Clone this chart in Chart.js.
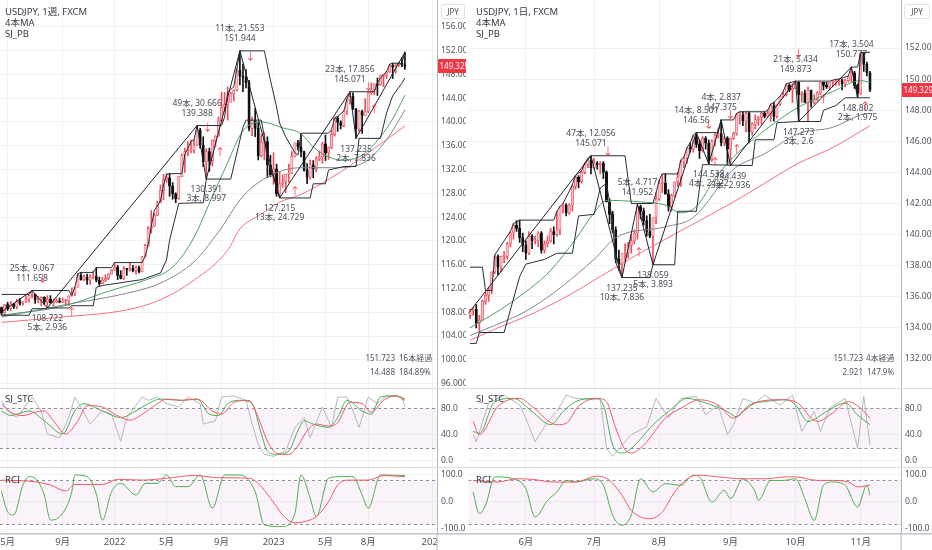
<!DOCTYPE html>
<html lang="ja">
<head>
<meta charset="utf-8">
<title>USDJPY 1週 / 1日</title>
<script src="https://cdn.jsdelivr.net/npm/chart.js@4.4.1/dist/chart.umd.min.js"></script>
<style>
  html, body { margin: 0; padding: 0; background: #fff; }
  body { position: relative; width: 932px; height: 550px; overflow: hidden;
         font-family: 'Noto Sans', 'Noto Sans CJK JP', sans-serif; }
  canvas { position: absolute; }
  .t { position: absolute; white-space: nowrap; font-size: 9.5px; line-height: 11px; color: #363a45; }
  .s { position: absolute; white-space: nowrap; font-size: 8px; line-height: 12px; color: #50535e; }
  .r { text-align: right; }
  .box { position: absolute; height: 13px; line-height: 13px; font-size: 8px; color: #50535e;
         border: 1px solid #e0e3eb; border-radius: 2px; text-align: center; }
</style>
</head>
<body>
<canvas id="wMain" width="466" height="388" style="left:0;top:0"></canvas>
<canvas id="wStc" width="466" height="79" style="left:0;top:388px"></canvas>
<canvas id="wRci" width="466" height="83" style="left:0;top:467px"></canvas>
<canvas id="dMain" width="466" height="388" style="left:466px;top:0"></canvas>
<canvas id="dStc" width="466" height="79" style="left:466px;top:388px"></canvas>
<canvas id="dRci" width="466" height="83" style="left:466px;top:467px"></canvas>

<div class="t" style="left:5px;top:6px">USDJPY, 1週, FXCM</div>
<div class="t" style="left:5px;top:17px">4本MA</div>
<div class="t" style="left:5px;top:28px">SJ_PB</div>
<div class="t" style="left:5px;top:393px">SJ_STC</div>
<div class="t" style="left:5px;top:474px">RCI</div>
<div class="box" style="left:441px;top:4px;width:22px">JPY</div>
<div class="s r" style="left:348px;top:352px;width:47px">151.723</div>
<div class="s" style="left:399px;top:352px">16本経過</div>
<div class="s r" style="left:348px;top:366px;width:47px">14.488</div>
<div class="s" style="left:399px;top:366px">184.89%</div>

<div class="t" style="left:476px;top:6px">USDJPY, 1日, FXCM</div>
<div class="t" style="left:476px;top:17px">4本MA</div>
<div class="t" style="left:476px;top:28px">SJ_PB</div>
<div class="t" style="left:476px;top:393px">SJ_STC</div>
<div class="t" style="left:476px;top:474px">RCI</div>
<div class="box" style="left:904px;top:4px;width:24px">JPY</div>
<div class="s r" style="left:816px;top:352px;width:47px">151.723</div>
<div class="s" style="left:866px;top:352px">4本経過</div>
<div class="s r" style="left:816px;top:366px;width:47px">2.921</div>
<div class="s" style="left:867px;top:366px">147.9%</div>

<script>
// ---------------- weekly (left) ----------------
const wTickIdx = [2, 20, 37, 54, 72, 89, 106, 120, 141];
const wTickText = ['5月', '9月', '2022', '5月', '9月', '2023', '5月', '8月', '2024'];
const wPriceTicks = [96, 100, 104, 108, 112, 116, 120, 124, 128, 132, 136, 140, 144, 148, 152, 156];

const wOpen = [
  108.8, 107.9, 109.3, 108.6, 109.4, 108.9, 109.9, 109.5, 109.7, 110.2,
  110.8, 111.0, 110.1, 110.1, 110.5, 109.7, 110.2, 109.6, 109.8, 109.8,
  109.7, 109.9, 109.9, 110.7, 111.1, 112.2, 114.2, 113.5, 113.9, 113.4,
  113.9, 114.0, 113.4, 112.8, 113.4, 113.7, 114.4, 115.1, 115.6, 114.2,
  113.7, 115.3, 115.2, 115.4, 115.0, 115.5, 114.8, 117.3, 119.2, 122.1,
  122.5, 124.3, 126.4, 128.5, 130.2, 130.6, 129.2, 127.9, 127.1, 130.8,
  134.4, 135.0, 135.2, 135.2, 136.1, 138.6, 136.1, 133.3, 135.0, 133.5,
  136.9, 137.6, 140.2, 142.5, 142.9, 143.3, 144.7, 145.3, 148.7, 147.7,
  147.5, 146.6, 138.9, 140.3, 138.9, 134.3, 136.6, 136.7, 132.8, 131.1,
  132.1, 127.9, 129.6, 129.9, 131.2, 131.4, 134.2, 136.5, 135.8, 135.0,
  131.9, 130.7, 132.8, 132.1, 133.8, 134.1, 136.3, 134.8, 135.7, 137.9,
  140.6, 139.9, 139.4, 141.8, 143.7, 144.3, 142.1, 138.8, 141.8, 141.1,
  141.8, 144.9, 145.4, 146.4, 146.2, 147.8, 147.8, 148.4, 149.4, 149.3,
  149.6, 149.9, 149.6
];
const wHigh = [
  108.9, 109.3, 109.7, 109.8, 109.5, 110.2, 110.3, 109.8, 110.8, 110.9,
  111.658, 111.1, 110.7, 110.6, 110.6, 110.8, 110.8, 110.2, 110.3, 110.4,
  110.4, 110.2, 110.8, 112.1, 112.2, 114.5, 114.7, 114.3, 114.4, 114.3,
  114.9, 115.5, 113.9, 113.9, 114.3, 114.5, 115.2, 116.35, 115.9, 115.0,
  115.7, 115.4, 116.3, 115.9, 115.8, 115.8, 117.4, 119.4, 122.4, 125.1,
  124.6, 126.7, 129.4, 131.2, 131.3, 131.3, 129.8, 128.1, 130.8, 134.6,
  135.6, 136.7, 137.0, 137.0, 139.388, 138.9, 137.5, 135.5, 135.6, 137.0,
  137.7, 140.8, 145.0, 144.95, 145.9, 145.0, 145.4, 148.9, 151.944, 149.7,
  148.8, 147.0, 140.8, 142.3, 139.9, 137.9, 138.2, 137.5, 134.4, 134.8,
  132.9, 131.6, 131.1, 131.2, 132.9, 135.0, 136.5, 136.9, 137.9, 135.1,
  133.0, 133.6, 133.5, 134.2, 135.1, 136.6, 137.8, 135.8, 138.7, 140.7,
  140.93, 140.2, 141.8, 143.8, 145.071, 144.9, 142.3, 141.952, 142.0, 143.9,
  145.0, 146.56, 146.4, 147.375, 147.9, 147.9, 148.5, 149.7, 149.873, 149.8,
  150.0, 150.777, 151.723
];
const wLow = [
  107.5, 107.5, 108.3, 108.3, 108.6, 108.6, 109.2, 109.2, 109.6, 109.7,
  110.4, 109.5, 109.6, 109.1, 109.3, 108.722, 109.5, 109.1, 109.6, 109.6,
  109.6, 109.1, 109.1, 110.7, 110.8, 112.2, 113.4, 113.3, 112.7, 112.7,
  113.6, 113.1, 112.5, 112.8, 113.1, 113.5, 114.4, 115.0, 113.5, 113.6,
  113.5, 114.2, 114.9, 114.8, 114.4, 114.6, 114.8, 117.3, 119.1, 121.3,
  122.4, 124.3, 126.4, 126.9, 129.8, 127.5, 127.0, 126.4, 127.0, 130.8,
  131.5, 134.3, 134.8, 134.8, 136.0, 135.6, 132.5, 130.391, 131.7, 132.6,
  135.8, 137.6, 140.0, 141.7, 140.3, 143.3, 143.5, 145.2, 146.2, 145.1,
  145.7, 138.5, 137.7, 137.5, 133.6, 134.1, 133.6, 130.6, 130.8, 129.5,
  127.5, 127.215, 129.0, 128.1, 129.8, 131.3, 134.1, 135.3, 134.1, 131.7,
  129.6, 130.4, 130.6, 131.6, 133.5, 133.0, 133.5, 133.7, 135.5, 137.6,
  138.4, 138.8, 139.2, 141.2, 143.0, 142.1, 137.235, 138.3, 138.059, 141.1,
  141.5, 144.6, 144.538, 144.439, 146.1, 145.9, 147.3, 148.3, 147.273, 148.2,
  149.3, 149.3, 148.802
];
const wClose = [
  107.9, 109.3, 108.6, 109.4, 108.9, 109.9, 109.5, 109.7, 110.2, 110.8,
  111.0, 110.1, 110.1, 110.5, 109.7, 110.2, 109.6, 109.8, 109.8, 109.7,
  109.9, 109.9, 110.7, 111.1, 112.2, 114.2, 113.5, 113.9, 113.4, 113.9,
  114.0, 113.4, 112.8, 113.4, 113.7, 114.4, 115.1, 115.6, 114.2, 113.7,
  115.3, 115.2, 115.4, 115.0, 115.5, 114.8, 117.3, 119.2, 122.1, 122.5,
  124.3, 126.4, 128.5, 130.2, 130.6, 129.2, 127.9, 127.1, 130.8, 134.4,
  135.0, 135.2, 135.2, 136.1, 138.6, 136.1, 133.3, 135.0, 133.5, 136.9,
  137.6, 140.2, 142.5, 142.9, 143.3, 144.7, 145.3, 148.7, 147.7, 147.5,
  146.6, 138.9, 140.3, 138.9, 134.3, 136.6, 136.7, 132.8, 131.1, 132.1,
  127.9, 129.6, 129.9, 131.2, 131.4, 134.2, 136.5, 135.8, 135.0, 131.9,
  130.7, 132.8, 132.1, 133.8, 134.1, 136.3, 134.8, 135.7, 137.9, 140.6,
  139.9, 139.4, 141.8, 143.7, 144.3, 142.1, 138.8, 141.8, 141.1, 141.8,
  144.9, 145.4, 146.4, 146.2, 147.8, 147.8, 148.4, 149.4, 149.3, 149.6,
  149.9, 149.6, 149.329
];
// moving averages: [bar index, price]
const wMaGreen = [[0,107.5],[20,109.0],[36,111.7],[47,113.4],[56,115.6],[63,120.6],[69,127.5],[73,132.0],[79,138.5],[85,140.0],[92,139.0],[98,138.0],[102,135.8],[107,134.1],[112,133.6],[118,134.4],[124,137.5],[128,140.5],[132,144.5]];
const wMaGray = [[0,107.2],[20,109.2],[41,111.2],[52,112.9],[63,116.5],[71,121.5],[79,127.5],[88,131.0],[98,132.3],[109,132.3],[118,133.0],[126,137.0],[132,142.0]];
const wMaRed = [[0,106.3],[20,107.2],[41,108.4],[52,110.1],[63,113.4],[74,118.4],[78,122.0],[85,124.5],[91,126.5],[98,127.8],[111,131.6],[120,134.8],[132,139.3]];
// SJ_PB box lines and zigzag
const wUpper = [[0,111.0],[9,111.0],[10,111.66],[22,111.66],[23,110.8],[24,112.2],[25,114.5],[26,114.7],[30,114.7],[31,115.5],[36,115.5],[37,116.35],[46,116.35],[47,117.4],[48,119.4],[49,122.4],[50,125.1],[52,126.7],[53,129.4],[54,131.2],[55,131.3],[59,131.3],[60,134.6],[61,135.6],[62,136.7],[63,137.0],[64,139.39],[72,139.39],[73,140.8],[74,145.0],[76,145.9],[77,148.9],[78,151.94],[86,151.94],[88,147.0],[90,142.5],[91,139.8],[93,137.5],[96,134.8],[97,134.4],[98,138.1],[107,138.1],[108,138.7],[109,140.7],[110,140.93],[112,141.8],[113,143.8],[114,145.07],[122,145.07],[123,146.56],[124,147.4],[125,147.9],[126,148.5],[127,149.7],[128,149.87],[131,149.87],[132,151.72]];
const wLower = [[0,107.5],[9,107.5],[10,108.6],[14,108.6],[15,108.72],[22,108.72],[23,109.1],[30,109.1],[31,112.2],[33,112.5],[46,113.5],[52,114.6],[54,116.8],[55,120.1],[58,126.3],[64,126.4],[66,126.4],[67,130.39],[75,130.39],[79,139.1],[80,140.3],[85,140.3],[86,137.5],[87,133.6],[89,130.6],[91,127.215],[101,127.215],[102,129.6],[106,129.6],[107,131.9],[112,132.5],[116,132.5],[117,137.235],[124,137.235],[126,141.5],[128,144.4],[131,146.5],[132,147.4]];
const wZigzag = [[-15,102.591],[10,111.658],[15,108.722],[64,139.388],[67,130.391],[78,151.944],[91,127.215],[114,145.071],[116,137.235],[132,151.723]];
// swing labels: [index, price, above?, line1, line2]
const wNotes = [
  [10, 111.658, true, '25本, 9.067', '111.658'],
  [15, 108.722, false, '108.722', '5本, 2.936'],
  [64, 139.388, true, '49本, 30.666', '139.388'],
  [67, 130.391, false, '130.391', '3本, 8.997'],
  [78, 151.944, true, '11本, 21.553', '151.944'],
  [91, 127.215, false, '127.215', '13本, 24.729'],
  [114, 145.071, true, '23本, 17.856', '145.071'],
  [116, 137.235, false, '137.235', '2本, 7.836']
];
const wArrows = [[13.5,113.5,false],[23,107.9,true],[67.5,138.9,false],[71.5,134.8,true],[81.5,150.8,false],[96,128.2,true],[120,145.9,false],[122,142.0,true]];
// SJ_STC and RCI
const wStcGray = [[0,92],[2,76],[5,66],[10,97],[13,76],[15,41],[19,35],[22,66],[24,97],[26,82],[29,56],[33,76],[36,71],[39,30],[41,66],[46,97],[48,92],[51,97],[54,87],[58,82],[61,97],[65,87],[66,56],[70,61],[72,97],[76,99],[80,92],[82,56],[84,25],[86,10],[89,7],[93,15],[96,51],[99,66],[101,35],[105,82],[108,51],[110,97],[113,97],[115,76],[117,51],[120,97],[123,87],[126,99],[131,97],[132,82]];
const wStcGreen = [[0,76],[3,69],[9,76],[14,61],[20,41],[24,76],[27,87],[33,76],[39,66],[44,76],[48,87],[52,94],[59,92],[64,94],[68,71],[71,69],[74,87],[78,92],[82,87],[85,41],[87,15],[90,10],[94,15],[97,46],[99,61],[102,56],[107,51],[110,66],[113,92],[118,76],[121,71],[124,97],[129,99],[132,92]];
const wStcRed = [[0,87],[3,74],[7,69],[11,74],[14,76],[17,61],[21,41],[25,61],[28,84],[33,82],[37,71],[42,62],[47,74],[51,87],[54,94],[59,92],[64,94],[69,76],[72,71],[76,89],[81,92],[84,66],[87,30],[90,12],[94,10],[97,23],[100,46],[103,56],[107,53],[110,58],[114,89],[118,87],[121,74],[125,92],[129,99],[132,94]];
const wRciGreen = [[0,38],[2,-36],[4,-48],[7,63],[9,94],[11,88],[14,26],[16,-67],[20,-42],[23,38],[24,100],[28,94],[31,30],[33,-67],[36,38],[39,69],[44,26],[47,69],[51,69],[54,100],[57,57],[61,57],[65,100],[69,-23],[73,100],[78,100],[83,38],[86,-85],[92,-91],[96,-42],[98,100],[101,14],[103,-54],[107,88],[111,94],[115,94],[118,26],[120,-23],[124,100],[132,98]];
const wRciRed = [[0,81],[11,75],[16,63],[21,41],[24,65],[33,65],[38,84],[46,81],[54,88],[63,98],[71,90],[81,88],[84,69],[88,14],[93,-60],[96,-77],[100,-70],[103,-54],[107,1],[110,63],[113,81],[120,81],[125,98],[132,94]];

// ---------------- daily (right) ----------------
const dTickIdx = [18, 40, 61, 84, 105, 126];
const dTickText = ['6月', '7月', '8月', '9月', '10月', '11月'];
const dPriceTicks = [132, 134, 136, 138, 140, 142, 144, 146, 148, 150, 152];

const dOpen = [
  134.8, 135.1, 135.2, 134.3, 134.5, 135.7, 136.1, 136.4, 137.6, 138.6,
  137.9, 138.6, 138.6, 139.4, 140.1, 140.6, 140.4, 139.8, 139.3, 138.8,
  139.9, 139.6, 139.6, 140.1, 139.0, 139.4, 139.6, 140.2, 140.0, 140.3,
  141.8, 141.9, 141.4, 141.9, 143.1, 143.7, 143.4, 144.0, 144.5, 144.8,
  144.3, 144.6, 144.5, 144.6, 144.0, 142.1, 141.3, 140.3, 138.4, 138.1,
  138.8, 138.8, 139.3, 139.6, 140.1, 141.8, 141.5, 140.9, 140.2, 139.9,
  141.1, 142.3, 143.3, 143.3, 142.6, 141.8, 142.5, 143.4, 143.7, 144.7,
  144.9, 145.6, 145.5, 146.3, 145.8, 145.4, 146.2, 145.9, 144.8, 146.0,
  146.4, 146.5, 145.9, 146.2, 145.5, 146.2, 146.5, 147.7, 147.7, 147.3,
  147.8, 146.6, 147.1, 147.4, 147.5, 147.8, 147.6, 147.8, 148.3, 147.6,
  148.4, 148.9, 149.0, 149.6, 149.3, 149.4, 149.8, 149.0, 149.1, 148.5,
  149.3, 148.5, 148.7, 149.1, 149.8, 149.6, 149.5, 149.8, 149.8, 149.9,
  149.9, 149.7, 149.9, 150.2, 150.4, 149.6, 149.1, 151.68, 150.95, 150.4
];
const dHigh = [
  135.2, 135.3, 135.5, 134.8, 135.8, 136.3, 136.6, 137.6, 138.7, 138.7,
  138.6, 138.9, 139.5, 140.2, 140.7, 140.9, 140.93, 140.1, 139.6, 140.2,
  140.0, 139.9, 140.2, 140.2, 139.6, 139.9, 140.4, 140.5, 141.5, 141.8,
  142.0, 142.0, 142.0, 143.2, 143.8, 143.8, 144.1, 144.6, 144.9, 145.071,
  144.9, 144.7, 144.7, 144.7, 144.1, 142.3, 141.5, 140.5, 139.0, 138.5,
  139.4, 139.5, 140.0, 140.3, 141.952, 141.9, 141.7, 141.2, 141.3, 141.1,
  142.7, 143.5, 143.9, 143.9, 142.9, 142.6, 143.4, 144.0, 144.8, 145.0,
  145.6, 145.9, 146.4, 146.56, 146.1, 146.3, 146.3, 146.1, 146.1, 146.5,
  146.8, 147.375, 146.3, 146.3, 146.2, 146.6, 147.8, 147.9, 147.9, 147.9,
  147.9, 147.2, 147.7, 147.6, 147.9, 147.9, 148.0, 148.4, 148.5, 148.4,
  148.9, 149.2, 149.7, 149.7, 149.7, 149.873, 149.85, 149.2, 149.3, 149.5,
  149.3, 149.0, 149.2, 149.8, 149.8, 149.8, 149.8, 149.9, 149.99, 150.0,
  150.0, 150.0, 150.2, 150.777, 150.5, 149.7, 151.723, 151.72, 151.1, 150.5
];
const dLow = [
  134.6, 134.8, 134.0, 133.7, 134.5, 135.5, 135.7, 136.2, 137.5, 137.4,
  137.6, 138.2, 138.4, 139.2, 139.7, 140.2, 139.5, 138.9, 138.4, 138.7,
  139.1, 139.4, 139.2, 138.8, 138.8, 139.2, 139.5, 139.4, 139.9, 140.0,
  141.4, 141.2, 141.3, 141.5, 142.9, 143.0, 143.3, 143.9, 144.3, 143.9,
  144.2, 144.2, 143.9, 143.6, 142.1, 140.7, 140.1, 138.2, 137.7, 137.235,
  138.3, 138.5, 138.8, 139.4, 139.7, 141.0, 140.6, 139.9, 139.8, 138.059,
  140.7, 142.2, 142.7, 142.6, 141.5, 141.5, 142.4, 143.1, 143.1, 144.3,
  144.6, 145.3, 145.3, 145.6, 144.9, 145.3, 145.5, 144.538, 144.7, 145.7,
  146.2, 145.7, 145.7, 144.5, 144.439, 146.1, 146.4, 147.1, 147.0, 146.6,
  145.9, 146.4, 146.8, 147.0, 147.1, 147.5, 147.6, 147.3, 147.3, 147.5,
  148.3, 148.8, 148.9, 149.2, 148.5, 149.4, 147.273, 148.5, 148.5, 147.3,
  148.2, 148.4, 148.6, 149.0, 149.3, 149.4, 149.3, 149.5, 149.6, 149.6,
  149.3, 149.5, 149.8, 149.8, 149.4, 148.802, 149.0, 150.5, 150.2, 149.2
];
const dClose = [
  135.1, 135.2, 134.3, 134.5, 135.7, 136.1, 136.4, 137.6, 138.6, 137.9,
  138.6, 138.6, 139.4, 140.1, 140.6, 140.4, 139.8, 139.3, 138.8, 139.9,
  139.6, 139.6, 140.1, 139.0, 139.4, 139.6, 140.2, 140.0, 140.3, 141.8,
  141.9, 141.4, 141.9, 143.1, 143.7, 143.4, 144.0, 144.5, 144.8, 144.3,
  144.6, 144.5, 144.6, 144.0, 142.1, 141.3, 140.3, 138.4, 138.1, 138.8,
  138.8, 139.3, 139.6, 140.1, 141.8, 141.5, 140.9, 140.2, 139.9, 141.1,
  142.3, 143.3, 143.3, 142.6, 141.8, 142.5, 143.4, 143.7, 144.7, 144.9,
  145.6, 145.5, 146.3, 145.8, 145.4, 146.2, 145.9, 144.8, 146.0, 146.4,
  146.5, 145.9, 146.2, 145.5, 146.2, 146.5, 147.7, 147.7, 147.3, 147.8,
  146.6, 147.1, 147.4, 147.5, 147.8, 147.6, 147.8, 148.3, 147.6, 148.4,
  148.9, 149.0, 149.6, 149.3, 149.4, 149.8, 149.0, 149.1, 148.5, 149.3,
  148.5, 148.7, 149.1, 149.8, 149.6, 149.5, 149.8, 149.8, 149.9, 149.9,
  149.7, 149.9, 150.2, 150.4, 149.6, 149.1, 151.68, 150.95, 150.4, 149.329
];
const dMaGreen = [[0,134.0],[13,135.6],[26,137.7],[34,139.7],[40,141.4],[44,142.2],[55,142.1],[63,141.9],[68,141.4],[73,141.8],[79,143.6],[85,145.0],[95,146.7],[106,148.2],[117,149.2],[126,149.9],[129,149.8]];
const dMaGray = [[0,133.5],[20,135.3],[40,138.4],[47,139.8],[63,140.5],[72,141.1],[85,144.2],[95,145.2],[106,146.5],[117,146.9],[126,147.7],[129,147.8]];
const dMaRed = [[0,133.2],[9,134.0],[20,134.9],[31,136.0],[42,137.3],[53,138.6],[63,139.7],[74,140.9],[85,142.1],[95,143.3],[106,144.6],[117,145.6],[129,147.0]];
const dUpper = [[0,137.9],[4,137.9],[5,136.4],[7,136.4],[8,138.7],[13,140.2],[14,140.7],[16,140.93],[27,140.93],[28,141.5],[29,141.8],[30,142.0],[33,143.2],[34,143.8],[36,144.1],[37,144.6],[38,144.9],[39,145.07],[50,145.07],[52,142.0],[59,142.0],[60,142.7],[61,143.5],[62,143.9],[67,143.9],[68,144.8],[69,145.0],[70,145.6],[71,145.9],[72,146.4],[73,146.56],[80,146.56],[81,147.375],[85,147.375],[86,147.8],[87,147.9],[95,147.9],[96,148.0],[97,148.4],[98,148.5],[100,148.9],[101,149.2],[102,149.7],[105,149.873],[116,149.873],[118,149.99],[119,150.0],[122,150.2],[123,150.777],[125,150.777],[126,151.723],[129,151.723]];
const dLower = [[0,133.0],[2,133.0],[3,133.7],[11,133.7],[16,137.3],[18,138.1],[24,138.4],[28,138.8],[33,138.8],[35,141.2],[40,141.3],[42,143.0],[44,143.3],[45,142.1],[46,140.7],[47,138.2],[48,137.7],[49,137.235],[58,137.235],[59,138.059],[66,138.059],[67,141.5],[73,141.5],[75,144.5],[91,144.44],[92,146.1],[98,146.1],[99,147.2],[106,147.273],[113,147.273],[114,148.0],[118,148.3],[121,148.8],[129,148.802]];
const dZigzag = [[-8,133.015],[39,145.071],[49,137.235],[54,141.952],[59,138.059],[73,146.56],[77,144.538],[81,147.375],[84,144.439],[105,149.873],[106,147.273],[123,150.777],[125,148.802],[126,151.723]];
const dNotes = [
  [39, 145.071, true, '47本, 12.056', '145.071'],
  [49, 137.235, false, '137.235', '10本, 7.836'],
  [54, 141.952, true, '5本, 4.717', '141.952'],
  [59, 138.059, false, '138.059', '5本, 3.893'],
  [73, 146.56, true, '14本, 8.501', '146.56'],
  [77, 144.538, false, '144.538', '4本, 2.022'],
  [81, 147.375, true, '4本, 2.837', '147.375'],
  [84, 144.439, false, '144.439', '3本, 2.936'],
  [105, 149.873, true, '21本, 5.434', '149.873'],
  [106, 147.273, false, '147.273', '3本, 2.6'],
  [123, 150.777, true, '17本, 3.504', '150.777'],
  [125, 148.802, false, '148.802', '2本, 1.975']
];
const dArrows = [[44.5,145.3,false],[54.5,138.8,true],[77,147.05,false],[79,144.6,true],[84,147.7,false],[86,145.4,true],[106,151.6,false],[114,148.65,true],[127.5,148.2,true]];
const dStcGray = [[1,40],[2,29],[6,88],[11,100],[16,85],[18,65],[21,29],[25,60],[28,75],[31,100],[34,95],[40,93],[42,95],[44,19],[46,7],[49,24],[52,40],[57,52],[60,95],[64,65],[68,95],[73,98],[76,70],[80,85],[83,40],[85,55],[88,95],[92,88],[95,100],[100,85],[104,100],[107,45],[111,75],[113,45],[116,80],[121,95],[125,19],[127,98],[129,24]];
const dStcGreen = [[1,45],[3,42],[8,90],[14,95],[20,75],[26,55],[30,75],[34,90],[40,95],[43,85],[46,24],[49,12],[52,19],[59,55],[64,75],[70,95],[76,88],[83,75],[86,67],[90,85],[95,90],[102,93],[105,85],[109,60],[115,75],[121,88],[125,70],[129,55]];
const dStcRed = [[1,60],[3,40],[9,83],[16,95],[20,83],[28,55],[31,57],[35,83],[41,95],[44,90],[47,50],[50,17],[52,12],[56,24],[63,65],[68,80],[74,93],[80,85],[85,65],[88,75],[93,90],[100,93],[105,90],[112,60],[117,73],[122,90],[126,80],[129,65]];
const dRciGreen = [[1,37],[3,-43],[5,-12],[8,93],[14,86],[18,49],[21,-56],[25,6],[28,37],[31,80],[34,74],[40,86],[43,62],[46,-49],[49,-86],[52,-49],[55,86],[59,37],[63,68],[68,62],[72,99],[74,93],[78,0],[82,43],[84,12],[88,86],[92,37],[93,6],[97,80],[101,80],[105,86],[108,12],[111,-68],[114,62],[117,74],[121,62],[125,-19],[128,62],[129,25]];
const dRciRed = [[1,80],[9,74],[15,86],[20,84],[27,74],[34,74],[41,96],[45,80],[49,25],[52,-31],[58,-62],[62,-37],[66,37],[71,93],[74,99],[80,93],[88,86],[95,86],[102,93],[105,93],[112,80],[117,80],[122,74],[125,56],[129,62]];

// ---------------- drawing ----------------
const FONT = "'Noto Sans', 'Noto Sans CJK JP', 'DejaVu Sans', sans-serif";
const GRID = '#f0f2f6';
const UP = '#ee4d5c';
const UP_FILL = '#fbc4c9';
const DOWN = '#111111';

const W = { xMax: 142.5, padLeft: 0, axisW: 29, tickIdx: wTickIdx, tickText: wTickText };
const D = { xMax: 139, padLeft: 2.5, axisW: 31, tickIdx: dTickIdx, tickText: dTickText };

const pts = (list) => list.map(([x, y]) => ({ x, y }));

function candleSets(o, h, l, c) {
  const up = c.map((v, i) => v >= o[i]);
  return [
    {
      type: 'bar', order: 10, grouped: false, barThickness: 1,
      data: l.map((v, i) => ({ x: i, y: [v, h[i]] })),
      backgroundColor: up.map((u) => (u ? UP : DOWN)),
    },
    {
      type: 'bar', order: 9, grouped: false, barThickness: 2.4, minBarLength: 1,
      data: o.map((v, i) => ({ x: i, y: [v, c[i]] })),
      backgroundColor: up.map((u) => (u ? UP_FILL : DOWN)),
      borderColor: up.map((u) => (u ? UP : DOWN)),
      borderWidth: 0.7, borderSkipped: false,
    },
  ];
}

function line(list, color, order, smooth = true) {
  return {
    type: 'line', order, data: pts(list), borderColor: color, borderWidth: 1,
    pointRadius: 0, fill: false, tension: 0,
    cubicInterpolationMode: smooth ? 'monotone' : 'default',
  };
}

function xAxis(p, showLabels) {
  return {
    type: 'linear', min: -0.5, max: p.xMax, offset: false,
    afterBuildTicks: (s) => { s.ticks = p.tickIdx.map((v) => ({ value: v })); },
    afterFit: (s) => { s.height = showLabels ? 17 : 0; s.paddingLeft = 0; s.paddingRight = 0; },
    ticks: {
      display: showLabels, autoSkip: false, maxRotation: 0, padding: 4, color: '#50535e',
      font: { family: FONT, size: 9.5 }, callback: (v, i) => p.tickText[i],
    },
    grid: { color: GRID, drawTicks: false, offset: false },
    border: { display: false },
  };
}

function yAxis(p, min, max, vals, digits) {
  return {
    position: 'right', min, max,
    afterBuildTicks: (s) => { s.ticks = vals.map((v) => ({ value: v })); },
    afterFit: (s) => { s.width = p.axisW; s.paddingTop = 0; s.paddingBottom = 0; },
    ticks: { color: '#50535e', padding: 4, font: { family: FONT, size: 8.5 }, callback: (v) => v.toFixed(digits) },
    grid: { color: GRID, drawTicks: false },
    border: { color: '#b2b5be' },
  };
}

function options(p, y, showX) {
  return {
    responsive: false, animation: false, events: [],
    layout: { autoPadding: false, padding: { left: p.padLeft, right: 0, top: 0, bottom: 0 } },
    plugins: { legend: { display: false }, tooltip: { enabled: false } },
    scales: { x: xAxis(p, showX), y },
  };
}

function mainDecor(notes, arrows, last) {
  return {
    id: 'mainDecor',
    afterDatasetsDraw(chart) {
      const { ctx, scales: { x, y } } = chart;
      ctx.save();
      ctx.textAlign = 'center';
      ctx.textBaseline = 'middle';
      ctx.font = `8.5px ${FONT}`;
      ctx.fillStyle = '#4a4e59';
      notes.forEach(([i, p, above, t1, t2]) => {
        const cx = x.getPixelForValue(i);
        const cy = y.getPixelForValue(p);
        if (above) {
          ctx.fillText(t1, cx, cy - 22);
          ctx.fillText(t2, cx, cy - 12);
        } else {
          ctx.fillText(t1, cx, cy + 11);
          ctx.fillText(t2, cx, cy + 20);
        }
      });
      ctx.font = `10px ${FONT}`;
      ctx.fillStyle = '#f23645';
      arrows.forEach(([i, p, up]) => {
        ctx.fillText(up ? '↑' : '↓', x.getPixelForValue(i), y.getPixelForValue(p));
      });
      ctx.restore();
    },
    afterDraw(chart) {
      const { ctx, chartArea: a, scales: { y } } = chart;
      const cy = Math.round(y.getPixelForValue(last));
      ctx.save();
      ctx.fillStyle = '#f23645';
      ctx.fillRect(a.right + 1, cy - 7, chart.width - a.right - 1, 14);
      ctx.fillStyle = '#ffffff';
      ctx.font = `8px ${FONT}`;
      ctx.textBaseline = 'middle';
      ctx.fillText(last.toFixed(3), a.right + 2.5, cy + 0.5);
      ctx.restore();
    },
  };
}

function oscDecor(hi, lo, bottom) {
  return {
    id: 'oscDecor',
    beforeDatasetsDraw(chart) {
      const { ctx, chartArea: a, scales: { y } } = chart;
      const t = Math.round(y.getPixelForValue(hi)) + 0.5;
      const b = Math.round(y.getPixelForValue(lo)) + 0.5;
      ctx.save();
      ctx.fillStyle = 'rgba(222, 170, 222, 0.14)';
      ctx.fillRect(a.left, t, a.width, b - t);
      ctx.strokeStyle = '#8d909a';
      ctx.lineWidth = 1;
      ctx.setLineDash([3, 3]);
      [t, b].forEach((yy) => {
        ctx.beginPath();
        ctx.moveTo(a.left, yy);
        ctx.lineTo(a.right, yy);
        ctx.stroke();
      });
      ctx.restore();
    },
    afterDraw(chart) {
      const { ctx, chartArea: a } = chart;
      ctx.save();
      ctx.fillStyle = '#dadde3';
      ctx.fillRect(0, 0, chart.width, 1);
      if (bottom) {
        ctx.fillStyle = '#ffffff';
        ctx.fillRect(a.right + 0.5, a.bottom, chart.width - a.right, chart.height - a.bottom);
        ctx.fillStyle = '#c5c8ce';
        ctx.fillRect(0, a.bottom, chart.width, 1.6);
        ctx.fillStyle = '#b2b5be';
        ctx.fillRect(a.right - 0.5, a.bottom, 1, chart.height - a.bottom);
      }
      ctx.restore();
    },
  };
}

function drawMain(id, p, o, h, l, c, ma, box, notes, arrows, yr, ticks) {
  return new Chart(document.getElementById(id), {
    type: 'bar',
    data: {
      datasets: [
        ...candleSets(o, h, l, c),
        line(ma[2], '#f2707f', 6),
        line(ma[1], '#83868f', 5),
        line(ma[0], '#4f9e64', 4),
        line(box[0], '#2a2e39', 3, false),
        line(box[1], '#2a2e39', 3, false),
        line(box[2], '#1e222d', 2, false),
      ],
    },
    options: options(p, yAxis(p, yr[0], yr[1], ticks, 3), false),
    plugins: [mainDecor(notes, arrows, c[c.length - 1])],
  });
}

function drawOsc(id, p, sets, yr, ticks, band, bottom) {
  return new Chart(document.getElementById(id), {
    type: 'line',
    data: { datasets: sets },
    options: options(p, yAxis(p, yr[0], yr[1], ticks, 1), bottom),
    plugins: [oscDecor(band[0], band[1], bottom)],
  });
}

drawMain('wMain', W, wOpen, wHigh, wLow, wClose, [wMaGreen, wMaGray, wMaRed],
  [wUpper, wLower, wZigzag], wNotes, wArrows, [95.27, 160.49], wPriceTicks);
drawOsc('wStc', W, [
  line(wStcGray, '#b4b7bf', 3, false), line(wStcGreen, '#4caf50', 2), line(wStcRed, '#f05a6a', 1),
], [-9.2, 110.8], [0, 40, 80], [80, 20], false);
drawOsc('wRci', W, [
  line(wRciGreen, '#4caf50', 2), line(wRciRed, '#f05a6a', 1),
], [-114.8, 129.6], [-100, 0, 100], [80, -80], true);

drawMain('dMain', D, dOpen, dHigh, dLow, dClose, [dMaGreen, dMaGray, dMaRed],
  [dUpper, dLower, dZigzag], dNotes, dArrows, [130.13, 155.09], dPriceTicks);
drawOsc('dStc', D, [
  line(dStcGray, '#b4b7bf', 3, false), line(dStcGreen, '#4caf50', 2), line(dStcRed, '#f05a6a', 1),
], [-9.2, 110.8], [0, 40, 80], [80, 20], false);
drawOsc('dRci', D, [
  line(dRciGreen, '#4caf50', 2), line(dRciRed, '#f05a6a', 1),
], [-114.8, 129.6], [-100, 0, 100], [80, -80], true);
</script>
</body>
</html>
